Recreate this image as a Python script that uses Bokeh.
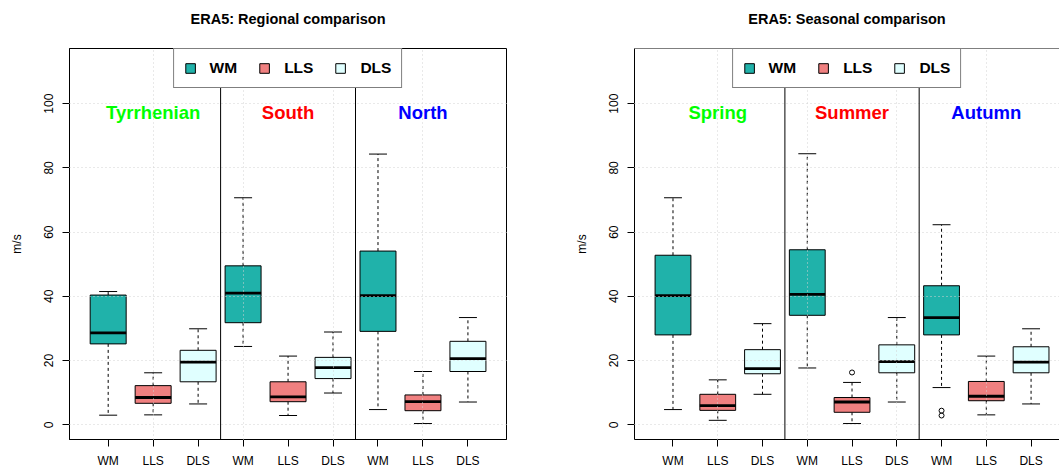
from bokeh.plotting import figure
from bokeh.models import (Range1d, FixedTicker, Span, Legend, LegendItem,
                          ColumnDataSource, Title)
from bokeh.layouts import row
from bokeh.embed import file_html
from bokeh.resources import INLINE
from bokeh.core.properties import value

# ---------------- data ----------------
variables = ["WM", "LLS", "DLS"]
var_colors = ["#20B2AA", "#F08080", "#E0FFFF"]

regions = ["Tyrrhenian", "South", "North"]
seasons = ["Spring", "Summer", "Autumn"]
group_colors = ["#00FF00", "#FF0000", "#0000FF"]

# Regional comparison (order: Tyrrhenian WM, LLS, DLS, South WM, LLS, DLS, North WM, LLS, DLS)
reg_lower = [3.0, 3.1, 6.5, 24.4, 2.9, 9.9, 4.75, 0.4, 7.1]
reg_q1 = [25.2, 6.7, 13.4, 31.8, 7.2, 14.4, 29.1, 4.4, 16.6]
reg_median = [28.6, 8.5, 19.5, 41.0, 8.7, 17.8, 40.2, 7.2, 20.6]
reg_q3 = [40.4, 12.2, 23.2, 49.5, 13.4, 21.0, 54.1, 9.3, 26.0]
reg_upper = [41.5, 16.2, 29.9, 70.7, 21.4, 28.9, 84.3, 16.6, 33.4]
reg_out_group = []
reg_out_var = []
reg_out_value = []

# Seasonal comparison (order: Spring WM, LLS, DLS, Summer ..., Autumn ...)
sea_lower = [4.75, 1.4, 9.5, 17.7, 0.4, 7.1, 11.6, 3.1, 6.5]
sea_q1 = [28.0, 4.5, 15.9, 34.1, 3.9, 16.2, 28.0, 7.5, 16.2]
sea_median = [40.2, 6.0, 17.5, 40.6, 7.1, 19.7, 33.4, 8.9, 19.5]
sea_q3 = [52.8, 9.5, 23.4, 54.5, 8.5, 24.9, 43.3, 13.5, 24.3]
sea_upper = [70.7, 14.0, 31.5, 84.4, 13.2, 33.4, 62.3, 21.4, 29.9]
sea_out_group = ["Summer", "Autumn", "Autumn"]
sea_out_var = ["LLS", "WM", "WM"]
sea_out_value = [16.3, 4.4, 2.9]

y_ticks = [0, 20, 40, 60, 80, 100]

# ---------------- style ----------------
FONT = "Liberation Sans"
Y0, Y1 = -4.57, 117.17
X0 = 0.14
PX_PER_UNIT = 44.97
BOX_W = 0.8
CAP_W = 0.4
LABEL_Y = 97.1


def make_panel(title_text, groups, lower, q1, med, q3, upper,
               out_group, out_var, out_val, width, frame_w, border_l,
               border_r, right_panel):
    x_end = X0 + frame_w / PX_PER_UNIT
    p = figure(width=width, height=470, x_range=Range1d(X0, x_end),
               y_range=Range1d(Y0, Y1), output_backend="svg",
               toolbar_location=None, min_border_left=border_l,
               min_border_right=border_r, min_border_top=48,
               min_border_bottom=30)
    p.background_fill_color = "white"
    p.border_fill_color = "white"

    pos = [g * 3 + v + 1 for g in range(len(groups)) for v in range(len(variables))]

    # whiskers
    p.segment(x0=pos, y0=q3, x1=pos, y1=upper, line_color="black",
              line_width=1, line_dash="3 3")
    p.segment(x0=pos, y0=q1, x1=pos, y1=lower, line_color="black",
              line_width=1, line_dash="3 3")
    # caps
    p.segment(x0=[x - CAP_W / 2 for x in pos], y0=upper,
              x1=[x + CAP_W / 2 for x in pos], y1=upper,
              line_color="black", line_width=1)
    p.segment(x0=[x - CAP_W / 2 for x in pos], y0=lower,
              x1=[x + CAP_W / 2 for x in pos], y1=lower,
              line_color="black", line_width=1)

    # boxes, one renderer per variable
    box_renderers = []
    for v, name in enumerate(variables):
        idx = [g * 3 + v for g in range(len(groups))]
        src = ColumnDataSource(dict(x=[pos[i] for i in idx],
                                    top=[q3[i] for i in idx],
                                    bottom=[q1[i] for i in idx]))
        r = p.vbar(x="x", width=BOX_W, top="top", bottom="bottom", source=src,
                   fill_color=var_colors[v], line_color="black", line_width=1)
        box_renderers.append(r)

    # medians
    p.segment(x0=[x - BOX_W / 2 for x in pos], y0=med,
              x1=[x + BOX_W / 2 for x in pos], y1=med,
              line_color="black", line_width=2.8, line_cap="butt")

    # outliers
    if out_val:
        ox = [groups.index(g) * 3 + variables.index(v) + 1
              for g, v in zip(out_group, out_var)]
        p.scatter(x=ox, y=out_val, marker="circle", size=5,
                  fill_color=None, line_color="black", line_width=1)

    # group labels
    centers = [g * 3 + 2 for g in range(len(groups))]
    p.text(x=centers, y=[LABEL_Y] * len(groups), text=groups,
           text_color=group_colors, text_align="center",
           text_baseline="alphabetic", text_font=value(FONT),
           text_font_style="bold", text_font_size="18.5px")

    # grid (drawn over the boxes, like R's grid())
    p.xgrid.ticker = FixedTicker(ticks=[2, 4, 6, 8])
    p.ygrid.ticker = FixedTicker(ticks=y_ticks)
    for g in (p.xgrid, p.ygrid):
        g.grid_line_color = "#D3D3D3"
        g.grid_line_dash = "1 3"
        g.grid_line_width = 1
        g.level = "annotation"

    # separators between groups
    for s in (3.5, 6.5):
        p.add_layout(Span(location=s, dimension="height",
                          line_color="black", line_width=1))

    # axes
    p.xaxis.ticker = FixedTicker(ticks=pos)
    p.xaxis.major_label_overrides = {x: variables[(x - 1) % 3] for x in pos}
    p.yaxis.ticker = FixedTicker(ticks=y_ticks)
    p.yaxis.major_label_orientation = "vertical"
    p.yaxis.axis_label = "m/s"
    for ax in (p.xaxis, p.yaxis):
        ax.major_tick_out = 7
        ax.major_tick_in = 0
        ax.minor_tick_line_color = None
        ax.axis_line_color = "black"
        ax.major_tick_line_color = "black"
        ax.major_label_text_font = FONT
        ax.major_label_text_font_size = "12px"
        ax.major_label_text_color = "black"
        ax.axis_label_text_font = FONT
        ax.axis_label_text_font_size = "12px"
        ax.axis_label_text_font_style = "normal"
        ax.axis_label_text_color = "black"
    p.xaxis.major_label_standoff = 7
    p.xaxis.major_label_text_line_height = 1.0
    p.yaxis.major_label_standoff = 9
    p.yaxis.axis_label_standoff = 18

    if right_panel:
        p.outline_line_color = None
        p.add_layout(Span(location=Y1, dimension="width",
                          line_color="black", line_width=1))
    else:
        p.outline_line_color = "black"
        p.outline_line_width = 1
        p.outline_line_alpha = 1

    # title (with an invisible spacer between it and the frame)
    p.title.text = title_text
    p.title.text_font = FONT
    p.title.text_font_size = "14.5px"
    p.title.text_font_style = "bold"
    p.title.text_color = "black"
    p.title.standoff = 0
    p.title.align = "center"
    p.title.vertical_align = "bottom"
    p.add_layout(Title(text=" ", text_font_size="1px", standoff=18.5), "above")

    # legend
    legend = Legend(
        items=[LegendItem(label=value(n), renderers=[r])
               for n, r in zip(variables, box_renderers)],
        orientation="horizontal", location="top_center",
        margin=0, padding=10, spacing=21, label_standoff=14,
        glyph_width=12, glyph_height=12, label_height=17,
        label_text_font=FONT, label_text_font_style="bold",
        label_text_font_size="15.5px", label_text_color="black",
        border_line_color="black", border_line_width=1,
        background_fill_color="white", background_fill_alpha=1,
    )
    p.add_layout(legend)
    return p


p1 = make_panel("ERA5: Regional comparison", regions, reg_lower, reg_q1,
                reg_median, reg_q3, reg_upper, reg_out_group, reg_out_var,
                reg_out_value, width=571, frame_w=437, border_l=69,
                border_r=65, right_panel=False)
p2 = make_panel("ERA5: Seasonal comparison", seasons, sea_lower, sea_q1,
                sea_median, sea_q3, sea_upper, sea_out_group, sea_out_var,
                sea_out_value, width=488, frame_w=427, border_l=61,
                border_r=0, right_panel=True)

layout = row(p1, p2)
open("out.html", "w").write(file_html(layout, INLINE))
